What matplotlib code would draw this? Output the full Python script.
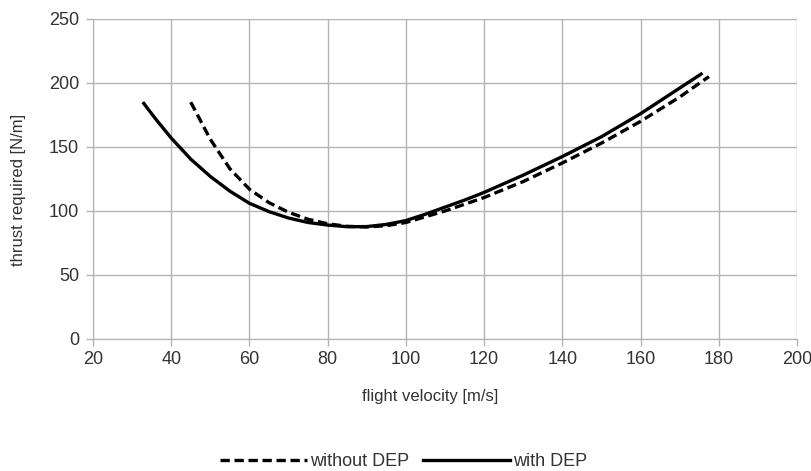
import matplotlib.pyplot as plt
from matplotlib.lines import Line2D

# values
vel_with = [33, 36, 40, 45, 50, 55, 60, 65, 70, 75, 80, 85, 90, 95, 100,
            105, 110, 115, 120, 130, 140, 150, 160, 170, 175.5]
thrust_with = [184, 172, 157, 140.5, 127, 115.5, 106, 99.5, 94.5, 91, 89, 87.7, 87.8, 89.5, 92.5,
               97.5, 103, 108.5, 114.5, 128, 142.5, 158, 176, 196, 207]

vel_without = [45, 50, 55, 60, 65, 70, 75, 80, 85, 90, 95, 100,
               110, 120, 130, 140, 150, 160, 170, 177.5]
thrust_without = [185, 156, 133, 117, 106.5, 99, 93.5, 90, 88, 87.5, 88.5, 91,
                  100, 110.5, 123, 137.5, 153, 170, 189, 205]

xticks = list(range(20, 201, 20))
yticks = list(range(0, 251, 50))

plt.rcParams['font.family'] = ['Liberation Sans', 'DejaVu Sans']

fig = plt.figure(figsize=(8.12, 4.71), dpi=100)
ax = fig.add_axes([0.1145, 0.2803, 0.867, 0.6794])

grey = '#b3b3b3'
dash = (0, (2.8, 1.4))
ax.plot(vel_without, thrust_without, color='black', lw=2.4, ls=dash,
        label='without DEP')
ax.plot(vel_with, thrust_with, color='black', lw=2.4, label='with DEP')

ax.set_xlim(20, 200)
ax.set_ylim(0, 250)
ax.set_xticks(xticks)
ax.set_yticks(yticks)
ax.grid(True, color=grey, lw=1)
ax.set_axisbelow(True)
for side in ['top', 'right']:
    ax.spines[side].set_visible(False)
for side in ['left', 'bottom']:
    ax.spines[side].set_color(grey)
ax.tick_params(axis='both', colors=grey, length=5, width=1, labelsize=13,
               labelcolor='#333333')
ax.tick_params(axis='x', pad=4)
ax.tick_params(axis='y', pad=5)

ax.set_xlabel('flight velocity [m/s]', fontsize=12, color='#333333')
ax.set_ylabel('thrust required [N/m]', fontsize=12, color='#333333')
# labels sit a bit off the axes centre in the reference
ax.xaxis.set_label_coords(0.479, -0.157)
ax.yaxis.set_label_coords(-0.095, 0.466)

handles = [Line2D([], [], color='black', lw=2.4, ls=dash),
           Line2D([], [], color='black', lw=2.4)]
fig.legend(handles, ['without DEP', 'with DEP'], loc='center', bbox_to_anchor=(0.497, 0.02),
           ncol=2, frameon=False, fontsize=13, handlelength=4.8, handletextpad=0.17,
           columnspacing=0.8, labelcolor='#333333')

fig.savefig('out.png', dpi=100)
